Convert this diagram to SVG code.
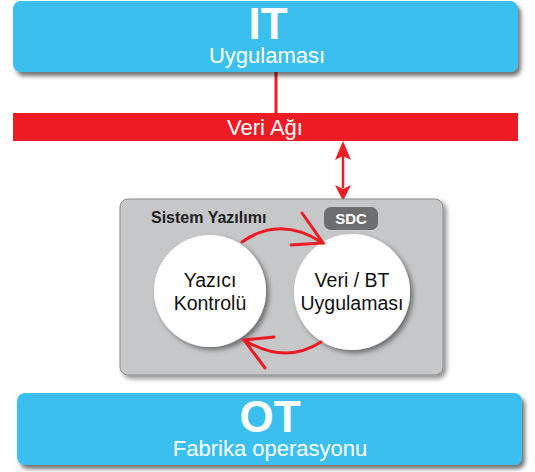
<svg xmlns="http://www.w3.org/2000/svg" width="535" height="472" viewBox="0 0 535 472">
<style>
.box{fill:#3bbfef}
.w{fill:#fff;font-family:"Liberation Sans",Arial,sans-serif;text-anchor:middle}
.big{font-weight:bold;font-size:44px}
.sub{font-size:22px}
.ct{fill:#111;font-family:"Liberation Sans",Arial,sans-serif;font-size:19.5px;text-anchor:middle}
.red{stroke:#ed1c24;fill:none}
</style>
<defs>
<filter id="sh" x="-10%" y="-20%" width="130%" height="150%">
<feDropShadow dx="3" dy="4" stdDeviation="2" flood-color="#000" flood-opacity="0.55"/>
</filter>
<filter id="sh2" x="-20%" y="-20%" width="150%" height="150%">
<feDropShadow dx="3" dy="3" stdDeviation="2.5" flood-color="#000" flood-opacity="0.45"/>
</filter>
</defs>
<g id="connectors">
<line class="red" x1="276" y1="70" x2="276" y2="114" stroke-width="3"/>
<line class="red" x1="343" y1="155" x2="343" y2="188" stroke-width="2.5"/>
<polygon points="343,141 335,160 343,156 351,160" fill="#ed1c24"/>
<polygon points="343,201 335,185 343,189 351,185" fill="#ed1c24"/>
</g>
<g id="it">
<rect class="box" x="13" y="1" width="505" height="71" rx="8" filter="url(#sh)"/>
<text class="w big" x="268" y="39">IT</text>
<text class="w sub" x="267" y="63">Uygulaması</text>
</g>
<g id="network">
<rect x="13" y="113" width="505" height="28" fill="#ed1c24"/>
<text class="w" x="265" y="135" font-size="22">Veri Ağı</text>
</g>
<g id="system">
<rect x="120" y="199" width="323" height="176" rx="8" fill="#c6c7c9" stroke="#8a8b8d" stroke-width="1" filter="url(#sh2)"/>
<text x="151" y="223" font-family="'Liberation Sans',Arial,sans-serif" font-weight="bold" font-size="16" fill="#222">Sistem Yazılımı</text>
</g>
<g id="sdc">
<rect x="324" y="207" width="54" height="23" rx="7" fill="#6d6e70"/>
<text class="w" x="351" y="224" font-size="15" font-weight="bold">SDC</text>
</g>
<g id="printer">
<circle cx="210" cy="291" r="56" fill="#fff" filter="url(#sh2)"/>
<text class="ct" x="210" y="287">Yazıcı</text>
<text class="ct" x="210" y="310">Kontrolü</text>
</g>
<g id="app">
<circle cx="352" cy="292" r="58" fill="#fff" filter="url(#sh2)"/>
<text class="ct" x="352" y="287">Veri / BT</text>
<text class="ct" x="352" y="310">Uygulaması</text>
</g>
<g id="loops" class="red" stroke-width="3" stroke-linecap="round">
<path d="M242,242 Q280,215 323,243"/>
<path d="M302,213 L323,243 L291,245"/>
<path d="M321,342 Q285,365 244,340"/>
<path d="M274,337 L244,340 L265,368"/>
</g>
<g id="ot">
<rect class="box" x="17" y="393" width="505" height="72" rx="8" filter="url(#sh)"/>
<text class="w big" x="270" y="432">OT</text>
<text class="w sub" x="270" y="456" font-size="23">Fabrika operasyonu</text>
</g>
</svg>
